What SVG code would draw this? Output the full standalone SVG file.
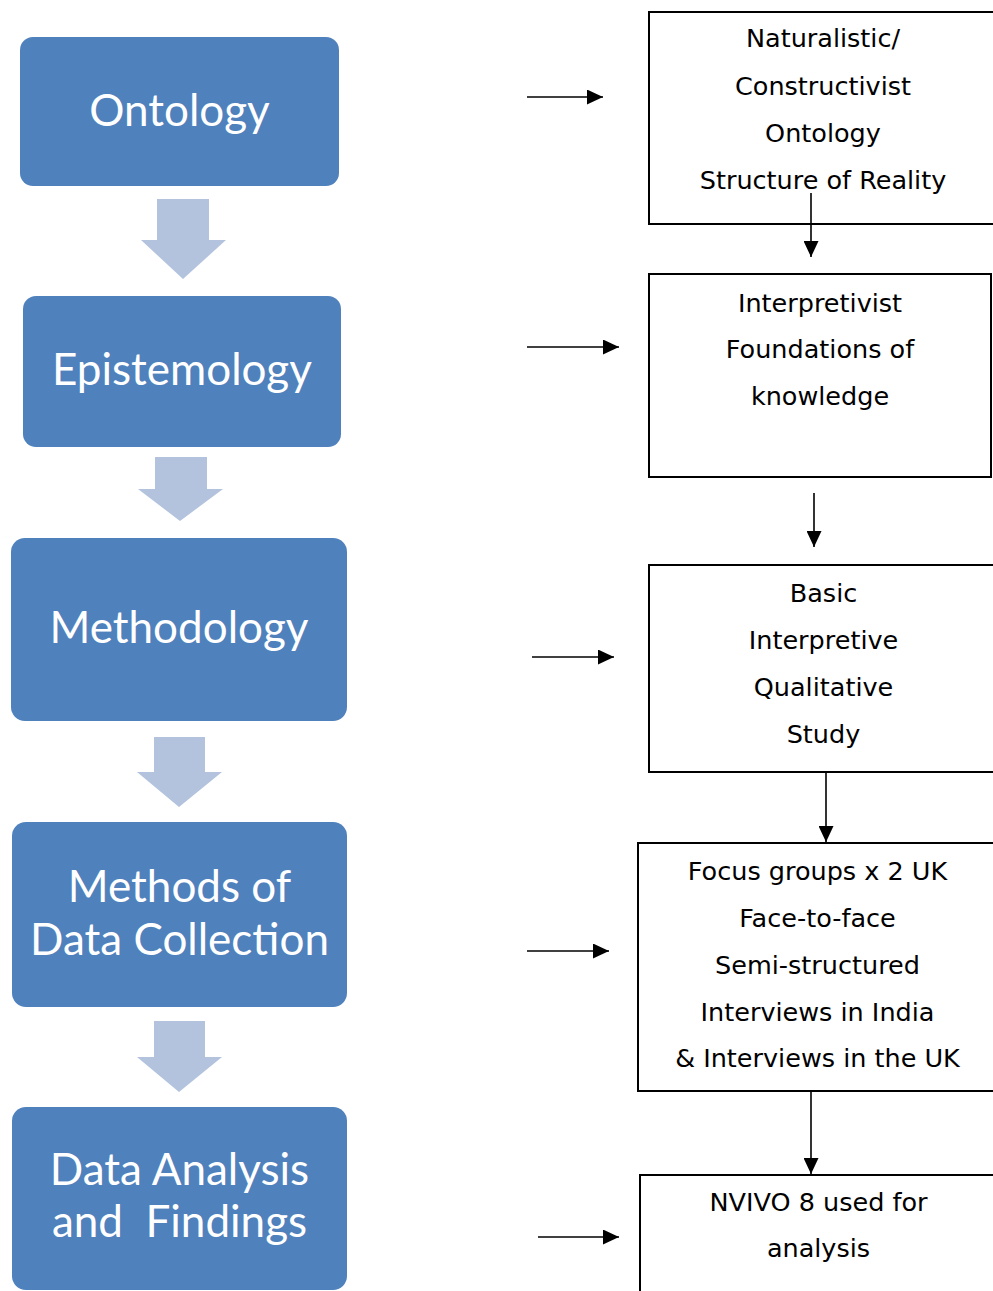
<svg xmlns="http://www.w3.org/2000/svg" width="993" height="1291" viewBox="0 0 993 1291">
<style>
.stage rect{fill:#4F81BD}
.stage text{fill:#fff;font-family:Lato,"Open Sans",sans-serif;font-size:44px;text-anchor:middle}
.flow{fill:#B3C3DE}
.box rect{fill:#fff;stroke:#000;stroke-width:2}
.box text{fill:#000;font-family:"DejaVu Sans","Liberation Sans",sans-serif;font-size:25.5px;text-anchor:middle}
.conn line{stroke:#000;stroke-width:1.6;marker-end:url(#ah)}
</style>
<defs>
<marker id="ah" markerUnits="userSpaceOnUse" markerWidth="17" markerHeight="15" refX="16" refY="7.5" orient="auto">
<path d="M0,0 L16,7.5 L0,15 z" fill="#000"/>
</marker>
</defs>
<rect width="993" height="1291" fill="#fff"/>
<g id="ontology" class="stage"><rect x="20" y="37" width="319" height="149" rx="13"/><text x="179.5" y="126">Ontology</text></g>
<g id="epistemology" class="stage"><rect x="23" y="296" width="318" height="151" rx="13"/><text x="182" y="385">Epistemology</text></g>
<g id="methodology" class="stage"><rect x="11" y="538" width="336" height="183" rx="14"/><text x="179" y="643">Methodology</text></g>
<g id="methods" class="stage"><rect x="12" y="822" width="335" height="185" rx="14"/><text x="179.5" y="902">Methods of</text><text x="179.5" y="955">Data Collection</text></g>
<g id="analysis" class="stage"><rect x="12" y="1107" width="335" height="183" rx="14"/><text x="179.5" y="1185">Data Analysis</text><text x="179.5" y="1237" xml:space="preserve">and  Findings</text></g>
<g id="flow-arrows">
<polygon class="flow" points="157,199 209,199 209,240 226,240 183,279 141,240 157,240"/>
<polygon class="flow" points="155,457 207,457 207,489 223,489 180,521 138,489 155,489"/>
<polygon class="flow" points="154,737 205,737 205,772 222,772 179,807 137,772 154,772"/>
<polygon class="flow" points="154,1021 205,1021 205,1057 222,1057 179,1092 137,1057 154,1057"/>
</g>
<g id="naturalistic" class="box"><rect x="649" y="12" width="360" height="212"/><text x="823" y="47">Naturalistic/</text><text x="823" y="95">Constructivist</text><text x="823" y="142">Ontology</text><text x="823" y="189">Structure of Reality</text></g>
<g id="interpretivist" class="box"><rect x="649" y="274" width="342" height="203"/><text x="820" y="312">Interpretivist</text><text x="820" y="358">Foundations of</text><text x="820" y="405">knowledge</text></g>
<g id="basic" class="box"><rect x="649" y="565" width="360" height="207"/><text x="823.5" y="602">Basic</text><text x="823.5" y="649">Interpretive</text><text x="823.5" y="696">Qualitative</text><text x="823.5" y="743">Study</text></g>
<g id="focus" class="box"><rect x="638" y="843" width="370" height="248"/><text x="817.5" y="880">Focus groups x 2 UK</text><text x="817.5" y="927">Face-to-face</text><text x="817.5" y="974">Semi-structured</text><text x="817.5" y="1021">Interviews in India</text><text x="817.5" y="1067">&amp; Interviews in the UK</text></g>
<g id="nvivo" class="box"><rect x="640" y="1175" width="370" height="140"/><text x="818.5" y="1211">NVIVO 8 used for</text><text x="818.5" y="1257">analysis</text></g>
<g id="connectors" class="conn">
<line x1="527" y1="97" x2="603" y2="97"/>
<line x1="527" y1="347" x2="619" y2="347"/>
<line x1="532" y1="657" x2="614" y2="657"/>
<line x1="527" y1="951" x2="609" y2="951"/>
<line x1="538" y1="1237" x2="619" y2="1237"/>
<line x1="811" y1="193" x2="811" y2="257"/>
<line x1="814" y1="493" x2="814" y2="547"/>
<line x1="826" y1="772" x2="826" y2="842"/>
<line x1="811" y1="1091" x2="811" y2="1174"/>
</g>
</svg>
